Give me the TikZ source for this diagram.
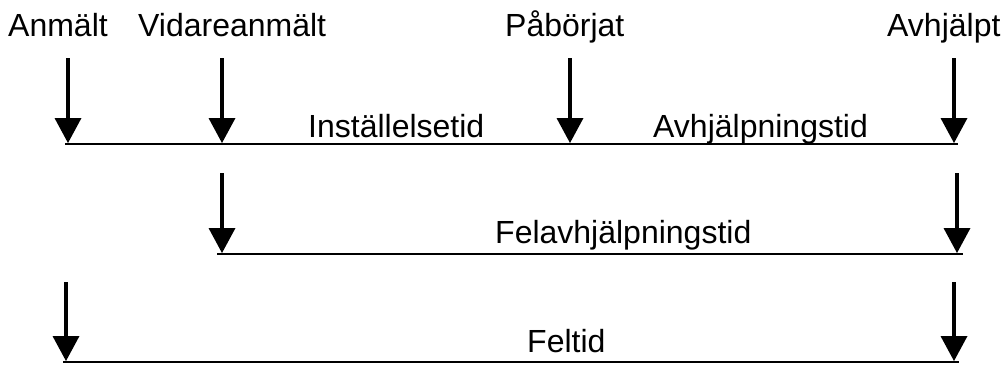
\documentclass[tikz,border=0pt]{standalone}
\usepackage{fontspec}
\setmainfont{Liberation Sans}
\usetikzlibrary{arrows.meta}
\begin{document}
\begin{tikzpicture}[x=1pt,y=-1pt,
  lbl/.style={inner sep=0pt,anchor=base west,font=\fontsize{32}{38}\selectfont},
  evarrow/.style={line width=4pt,-{Triangle[length=25pt,width=27pt,line width=0pt]}},
  tline/.style={line width=2pt}]
\useasboundingbox (0,0) rectangle (1008,367);
% top labels
\node[lbl] (anm) at (8,36) {Anmält};
\node[lbl] (vid) at (138,36) {Vidareanmält};
\node[lbl] (pab) at (505,36) {Påbörjat};
\node[lbl] (avh) at (887,36) {Avhjälpt};
% row 1
\coordinate (r1s) at (65,144);
\coordinate (r1e) at (958,144);
\draw[tline] (r1s) -- (r1e);
\coordinate (a1t) at (68,58);   \coordinate (a1b) at (68,143);
\coordinate (b1t) at (222,58);  \coordinate (b1b) at (222,143);
\coordinate (c1t) at (570,58);  \coordinate (c1b) at (570,143);
\coordinate (d1t) at (954,58);  \coordinate (d1b) at (954,143);
\draw[evarrow] (a1t) -- (a1b);
\draw[evarrow] (b1t) -- (b1b);
\draw[evarrow] (c1t) -- (c1b);
\draw[evarrow] (d1t) -- (d1b);
\node[lbl] (inst) at (308,137) {Inställelsetid};
\node[lbl] (avht) at (653,137) {Avhjälpningstid};
% row 2
\coordinate (r2s) at (217,254);
\coordinate (r2e) at (963,254);
\draw[tline] (r2s) -- (r2e);
\coordinate (a2t) at (222,173); \coordinate (a2b) at (222,253);
\coordinate (b2t) at (957,173); \coordinate (b2b) at (957,253);
\draw[evarrow] (a2t) -- (a2b);
\draw[evarrow] (b2t) -- (b2b);
\node[lbl] (felavh) at (495,243) {Felavhjälpningstid};
% row 3
\coordinate (r3s) at (63,362);
\coordinate (r3e) at (959,362);
\draw[tline] (r3s) -- (r3e);
\coordinate (a3t) at (66,282); \coordinate (a3b) at (66,361);
\coordinate (b3t) at (954,282); \coordinate (b3b) at (954,361);
\draw[evarrow] (a3t) -- (a3b);
\draw[evarrow] (b3t) -- (b3b);
\node[lbl] (felt) at (527,352) {Feltid};
\end{tikzpicture}
\end{document}
